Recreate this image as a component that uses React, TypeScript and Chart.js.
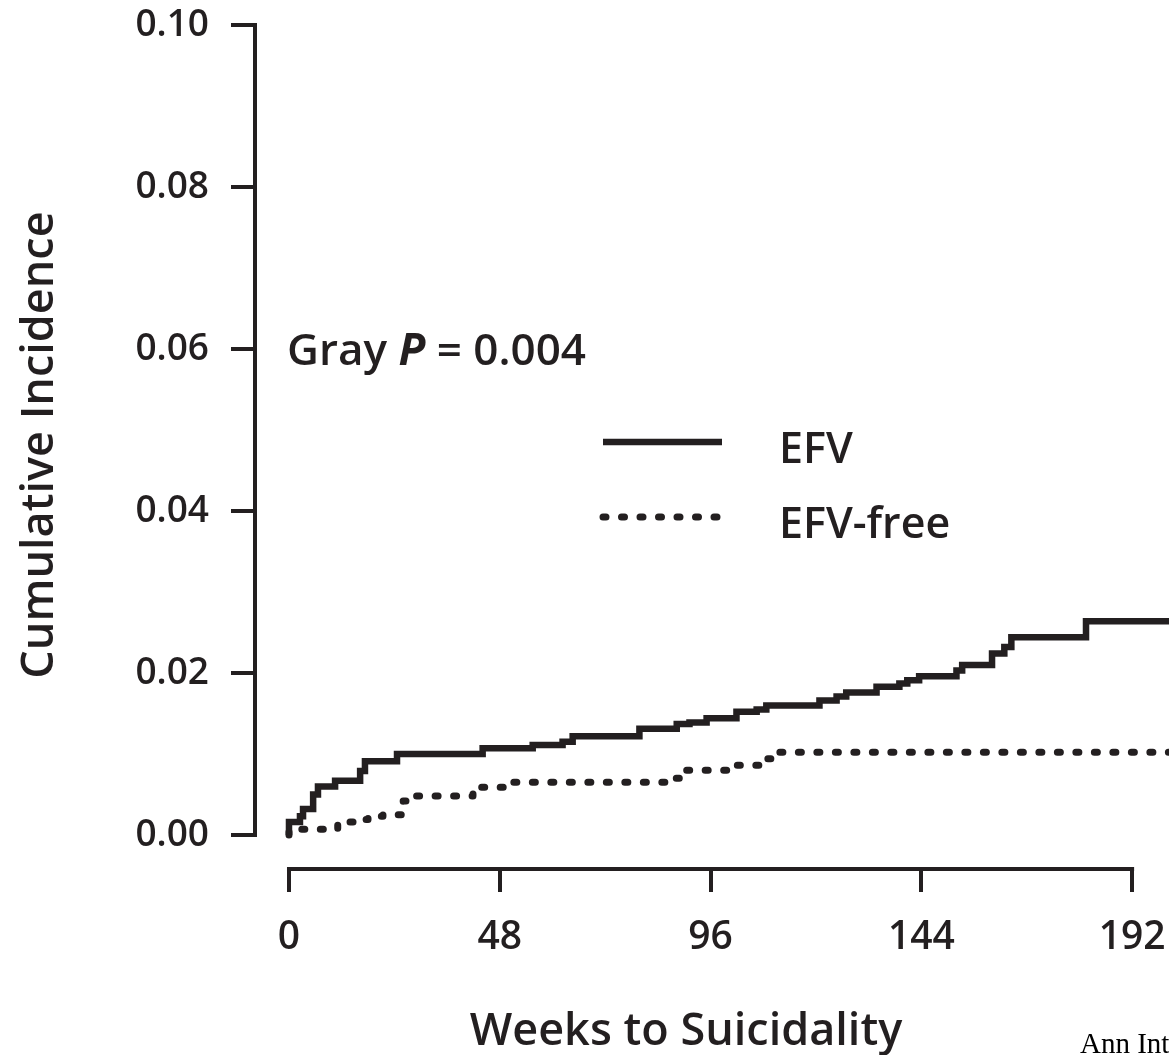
import { useEffect, useRef } from "react";
import { Chart, registerables } from "chart.js";

Chart.register(...registerables);

// Cumulative incidence of suicidality by weeks of follow-up
const efvWeeks = [0, 2.5, 3.2, 5.5, 6.6, 10.5, 16.2, 17.3, 24.6, 44.1, 55.5, 62.3, 64.6, 79.8, 88.3, 91.2, 95.1, 101.9, 106.5, 108.7, 120.8, 124.7, 126.9, 133.8, 139.0, 140.8, 143.5, 152.0, 153.3, 160.1, 162.9, 164.5, 181.5, 194.3, 200.4];
const efvIncidence = [0, 0.0016, 0.0023, 0.0032, 0.005, 0.006, 0.0067, 0.0079, 0.0091, 0.0100, 0.0107, 0.0111, 0.0115, 0.0122, 0.0131, 0.0137, 0.0139, 0.0144, 0.0152, 0.0155, 0.0160, 0.0166, 0.0171, 0.0176, 0.0183, 0.0187, 0.0191, 0.0196, 0.0203, 0.0210, 0.0224, 0.0232, 0.0244, 0.0264, 0.0264];

const freeWeeks = [0, 11.1, 14.6, 18.0, 21.4, 26.0, 28.7, 41.9, 49.1, 86.7, 89.6, 101.9, 107.8, 111.0, 121.9, 200.4];
const freeIncidence = [0, 0.0007, 0.0016, 0.0019, 0.0023, 0.0025, 0.0042, 0.0048, 0.0059, 0.0065, 0.0070, 0.0080, 0.0086, 0.0094, 0.0102, 0.0102];

const xTicks = [0, 48, 96, 144, 192];
const yTicks = [0, 0.02, 0.04, 0.06, 0.08, 0.1];
const seriesLabels = ["EFV", "EFV-free"];

const xTitle = "Weeks to Suicidality";
const yTitle = "Cumulative Incidence";
const citation = "Ann Intern Med";

const INK = "#231f20";
const SANS = '"Open Sans", "DejaVu Sans", sans-serif';

const toPoints = (xs: number[], ys: number[]) => xs.map((x, i) => ({ x, y: ys[i] }));

const overlay = {
  id: "overlay",
  afterDraw(chart: any) {
    const { ctx, chartArea, scales } = chart;
    const x = scales.x;
    const y = scales.y;
    ctx.save();

    // detached axis lines
    ctx.strokeStyle = INK;
    ctx.lineWidth = 4;
    ctx.lineCap = "butt";
    ctx.beginPath();
    ctx.moveTo(chartArea.left, y.getPixelForValue(yTicks[yTicks.length - 1]) - 2);
    ctx.lineTo(chartArea.left, y.getPixelForValue(0) + 2);
    ctx.stroke();
    ctx.beginPath();
    ctx.moveTo(x.getPixelForValue(0) - 2, chartArea.bottom);
    ctx.lineTo(x.getPixelForValue(xTicks[xTicks.length - 1]) + 2, chartArea.bottom);
    ctx.stroke();

    ctx.fillStyle = INK;

    // axis titles
    ctx.font = `600 45px ${SANS}`;
    ctx.textAlign = "center";
    ctx.textBaseline = "alphabetic";
    ctx.fillText(xTitle, 686, 1045);
    ctx.save();
    ctx.translate(53, 445);
    ctx.rotate(-Math.PI / 2);
    ctx.fillText(yTitle, 0, 0);
    ctx.restore();

    // test statistic
    ctx.textAlign = "left";
    let tx = 287;
    const parts: [string, string][] = [
      ["Gray ", `600 44px ${SANS}`],
      ["P", `italic 700 44px ${SANS}`],
      [" = 0.004", `600 44px ${SANS}`],
    ];
    for (const [t, f] of parts) {
      ctx.font = f;
      ctx.fillText(t, tx, 365);
      tx += ctx.measureText(t).width;
    }

    // legend
    const rows = [442, 517];
    chart.data.datasets.forEach((ds: any, i: number) => {
      const ly = rows[i];
      ctx.save();
      ctx.strokeStyle = ds.borderColor;
      ctx.lineWidth = ds.borderWidth;
      ctx.lineCap = ds.borderCapStyle;
      ctx.setLineDash(ds.borderDash || []);
      ctx.beginPath();
      ctx.moveTo(603, ly);
      ctx.lineTo(722, ly);
      ctx.stroke();
      ctx.restore();
      ctx.font = `600 43px ${SANS}`;
      ctx.fillText(ds.label, 779, ly + 21);
    });

    // source line
    ctx.font = '29px "Liberation Serif", "Times New Roman", serif';
    ctx.fillStyle = "#000";
    ctx.fillText(citation, 1080, 1053);

    ctx.restore();
  },
};

export default function App() {
  const ref = useRef<HTMLCanvasElement | null>(null);

  useEffect(() => {
    if (!ref.current) return;
    const chart = new Chart(ref.current, {
      type: "line",
      data: {
        datasets: [
          {
            label: seriesLabels[0],
            data: toPoints(efvWeeks, efvIncidence),
            borderColor: INK,
            borderWidth: 6.5,
            borderCapStyle: "butt",
            borderJoinStyle: "miter",
            stepped: "after",
            pointRadius: 0,
            fill: false,
          },
          {
            label: seriesLabels[1],
            data: toPoints(freeWeeks, freeIncidence),
            borderColor: INK,
            borderWidth: 7,
            borderCapStyle: "round",
            borderJoinStyle: "round",
            borderDash: [3, 15.5],
            stepped: "after",
            pointRadius: 0,
            fill: false,
          },
        ],
      },
      options: {
        animation: false,
        responsive: false,
        maintainAspectRatio: false,
        layout: { padding: { top: 25, left: 0, right: 0, bottom: 0 } },
        plugins: {
          legend: { display: false },
          tooltip: { enabled: false },
        },
        scales: {
          x: {
            type: "linear",
            min: -7.74,
            max: 200.4,
            afterFit: (s: any) => {
              s.height = 186;
              s.paddingLeft = 0;
              s.paddingRight = 0;
            },
            afterBuildTicks: (s: any) => {
              s.ticks = xTicks.map((v) => ({ value: v }));
            },
            border: { display: false },
            grid: {
              drawOnChartArea: false,
              drawTicks: true,
              tickLength: 23,
              color: INK,
              lineWidth: 4,
            },
            ticks: {
              color: INK,
              font: { family: SANS, size: 39, weight: "600" },
              padding: 22,
              maxRotation: 0,
              autoSkip: false,
              callback: (v: any) => String(v),
            },
          },
          y: {
            min: -0.0042,
            max: 0.1,
            afterFit: (s: any) => {
              s.width = 255;
              s.paddingTop = 0;
              s.paddingBottom = 0;
            },
            afterBuildTicks: (s: any) => {
              s.ticks = yTicks.map((v) => ({ value: v }));
            },
            border: { display: false },
            grid: {
              drawOnChartArea: false,
              drawTicks: true,
              tickLength: 24,
              color: INK,
              lineWidth: 4,
            },
            ticks: {
              color: INK,
              font: { family: SANS, size: 37, weight: "600" },
              padding: 22,
              autoSkip: false,
              callback: (v: any) => Number(v).toFixed(2),
            },
          },
        },
      },
      plugins: [overlay],
    });
    return () => chart.destroy();
  }, []);

  return (
    <div style={{ position: "fixed", left: 0, top: 0, width: 1169, height: 1055, background: "#fff" }}>
      <canvas ref={ref} width={1169} height={1055} style={{ width: 1169, height: 1055, display: "block" }} />
    </div>
  );
}
